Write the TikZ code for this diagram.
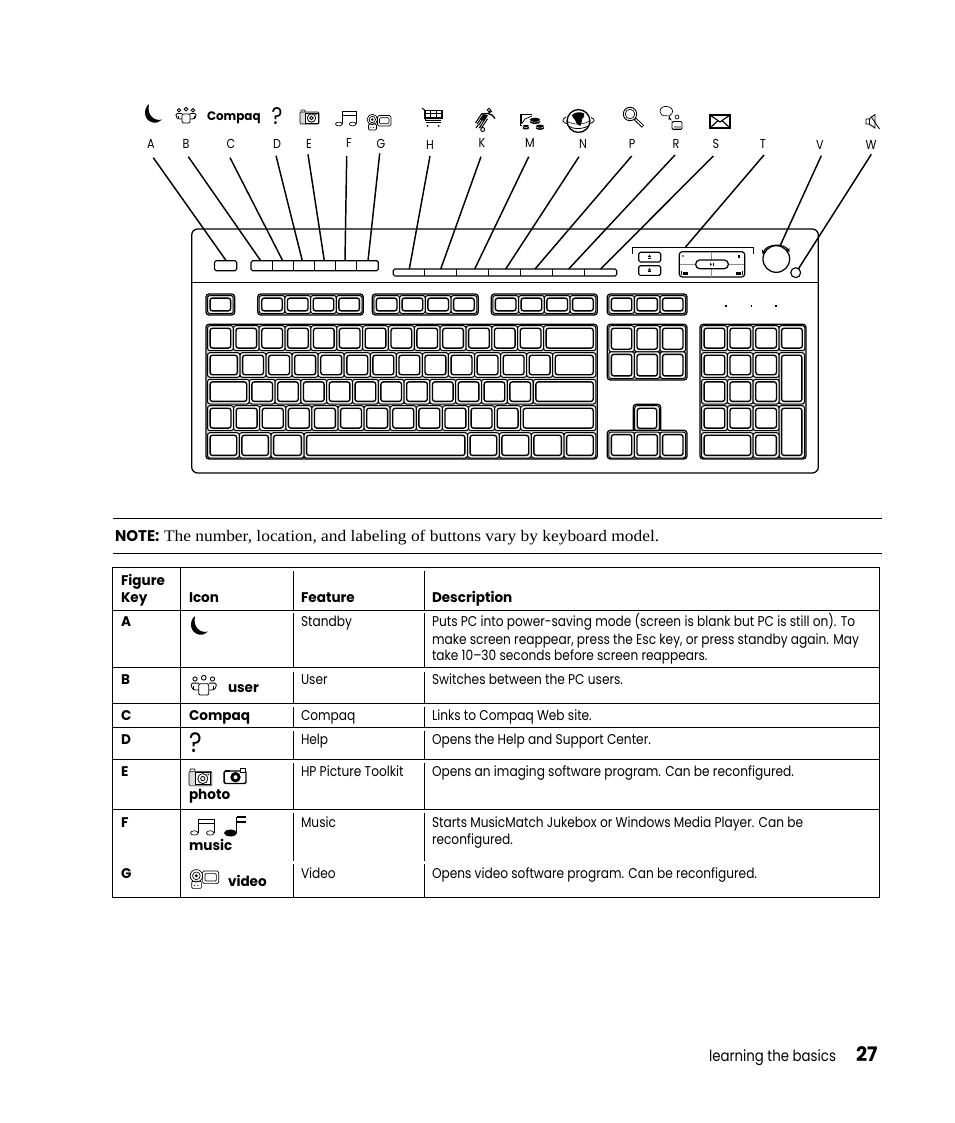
\documentclass[tikz,border=0pt]{standalone}
\usepackage{fontspec}
\usetikzlibrary{arrows.meta}
\setmainfont[FakeStretch=0.86,BoldFont=* Bold,BoldFeatures={FakeStretch=0.97}]{Poppins}
\newfontfamily\serifnote[FakeStretch=1.08]{Liberation Serif}
\newcommand\fpx[1]{\fontsize{\dimexpr #1pt*3/4\relax}{\dimexpr #1pt*3/4\relax}\selectfont}
\newcounter{tn}
\newcommand\T[4]{\stepcounter{tn}\node[txt] (t\thetn) at (#2,#3) {#1#4};}
\newcommand\keyb[4]{%
  \pgfmathsetmacro\ka{#1+2.6}\pgfmathsetmacro\kb{#2+2.6}\pgfmathsetmacro\kc{#3-2.6}\pgfmathsetmacro\kd{#4-2.6}%
  \draw[keyo] (#1,#2) rectangle (#3,#4);
  \draw[keyi] (\ka,\kb) rectangle (\kc,\kd);}
\newcommand\keyrow[5]{% x0 step n y1 y2
  \foreach \i in {1,...,#3}{\pgfmathsetmacro\xa{#1+(\i-1)*#2}\pgfmathsetmacro\xb{#1+\i*#2}\keyb{\xa}{#4}{\xb}{#5}}}
\newcommand\icon[4]{\begin{scope}[shift={(#1,#2)},scale=#3]#4\end{scope}}
\newcommand\moonicon{\fill[black] (5,0) .. controls (-1.5,5) and (0,17) .. (9,18.5) .. controls (12.5,19.2) and (16,18) .. (18,15.5) .. controls (11,17.5) and (2.5,12) .. (5,0) -- cycle;}
\newcommand\usersicon{\begin{scope}[ic,line width=.65pt]
 \draw (4,3.2) circle (1.7); \draw (11,2.2) circle (1.9); \draw (18,3.2) circle (1.7);
 \draw[rounded corners=1pt] (7,16) -- (7,7) -- (15,7) -- (15,16) -- cycle;
 \draw[rounded corners=1pt] (7,12) -- (3,12) -- (1,9.5) -- (1,6.5) -- (7,6.5);
 \draw[rounded corners=1pt] (15,12) -- (19,12) -- (21,9.5) -- (21,6.5) -- (15,6.5);
 \draw (3,12) -- (3,9); \draw (19,12) -- (19,9);
 \end{scope}}
\newcommand\cameraicon{\begin{scope}[ic,line width=.45pt]
 \draw[fill=black!15,rounded corners=.8pt] (0,2) rectangle (19,14);
 \draw[fill=white] (5,3) rectangle (18,13);
 \draw[rounded corners=.5pt] (.8,2) -- (.8,0) -- (5,0) -- (5,2);
 \draw[line width=.6pt] (11.5,8) circle (4.2); \draw[line width=.6pt] (11.5,8) circle (1.8);
 \fill (16,4.6) circle (.7);
 \end{scope}}
\newcommand\cameraicontwo{\begin{scope}
 \draw[line width=1.1pt,rounded corners=1pt] (.7,3) rectangle (22.5,15.5);
 \fill (12,9.2) circle (5.2); \fill[white] (12,9.2) circle (2);
 \draw[line width=.5pt,fill=white] (17,.6) rectangle (21.5,4);
 \fill (1,2) rectangle (6,4);
 \end{scope}}
\newcommand\musicicon{\begin{scope}[ic,line width=.5pt]
 \draw (7,13) -- (7,.8) -- (21,.8) -- (21,13); \draw (7,4.4) -- (21,4.4);
 \draw (3.8,13) ellipse (3.3 and 1.9); \draw (17.6,13) ellipse (3.3 and 1.9);
 \end{scope}}
\newcommand\notefilled{\fill (6.5,17) ellipse (6.5 and 3.4);
 \fill (12,17) rectangle (13.3,.6); \fill (13,.3) rectangle (22,2.1); \fill (13,5) rectangle (22,6.8);}
\newcommand\camcordericon{\begin{scope}[ic]
 \draw (5.3,6.5) circle (5.2); \draw (5.3,6.5) circle (3.2); \fill (5.3,6.5) circle (1.4);
 \draw[rounded corners=.8pt] (1.5,11) rectangle (9.5,17);
 \fill (3.8,14.5) circle (.5); \fill (6.6,14.5) circle (.5);
 \draw[rounded corners=1.2pt] (10.5,2.5) rectangle (24,13);
 \draw[rounded corners=.8pt] (12.5,4.7) rectangle (22,10.8);
 \end{scope}}
\newcommand\carticon{\begin{scope}[ic,line width=.75pt]
 \draw (0,0) -- (3,2.5) -- (3.5,12.5) -- (19,12.5);
 \draw[line width=.9pt] (3,2.5) rectangle (20,10); \draw (3,6) -- (20,6); \draw (8.5,2.5) -- (8.5,10); \draw (14,2.5) -- (14,10);
 \draw[line width=.9pt] (3.5,14.5) -- (19,14.5);
 \fill (5.5,18) circle (1); \fill (16.5,18) circle (1);
 \end{scope}}
\newcommand\runnericon{\begin{scope}[ic]
 \draw[line width=.7pt] (14,2) circle (1.7);
 \draw[line width=1pt] (6,6) -- (13,5.5) -- (17,7) -- (20,10.5); \draw[line width=.8pt] (13,5.5) -- (17,3);
 \fill (9,6) -- (13,7.5) -- (9,13) -- (5,11) -- cycle;
 \foreach \k in {0,1.7,3.4,5.1,6.8}{\draw[line width=.75pt] (6.5+\k*.9,6+\k*.7) -- (.5+\k*.9,15+\k*.7);}
 \draw[line width=.8pt] (3,17) -- (1,20); \draw[line width=.8pt] (6,18) -- (4,20);
 \draw[line width=.7pt] (7.7,21.5) circle (2);
 \end{scope}}
\newcommand\stack[3]{\fill (#1,#2) ellipse (#3 and #3*.42); \fill (#1-#3,#2) rectangle (#1+#3,#2+1.8); \fill (#1,#2+1.8) ellipse (#3 and #3*.42);
 \draw[white,line width=.3pt] (#1-#3,#2+.2) .. controls (#1-#3*.5,#2+#3*.55) and (#1+#3*.5,#2+#3*.55) .. (#1+#3,#2+.2);}
\newcommand\charticon{\begin{scope}[ic,line width=.55pt]
 \draw (13,1) -- (1,1) -- (1,12.5) -- (3,12.5); \draw (2,2) -- (2,10.5) ;
 \draw (2.5,11) -- (6,6) -- (13,3);
 \stack{16}{7}{5.4}
 \stack{6.8}{13.3}{3.3}
 \stack{21}{13.3}{4.2}
 \end{scope}}
\newcommand\globeicon{\begin{scope}[ic,line width=.6pt]
 \draw (3,8) .. controls (-2,10.5) and (-1,13.5) .. (5,15);
 \draw (28,8.5) .. controls (33,10.5) and (32,13) .. (26,15);
 \draw[line width=1pt,fill=white] (15.5,12) circle (11.4);
 \fill (9,6) .. controls (12,2.8) and (18,2.5) .. (21,4.5) .. controls (22,7) and (21,9) .. (19,10) .. controls (19,13) and (18.5,15) .. (17,17) .. controls (14.5,15.5) and (12.5,14) .. (12,11) .. controls (10.5,9) and (9,8) .. (9,6) -- cycle;
 \draw (5.5,17) .. controls (10,20.5) and (18,20.5) .. (25.5,17);
 \draw[line width=.4pt] (3.5,12) .. controls (10,16) and (20,16.5) .. (27,11.5);
 \end{scope}}
\newcommand\magicon{\begin{scope}[ic]
 \draw[line width=.7pt] (7,7) circle (6.7); \draw[line width=.5pt] (7,7) circle (4.8);
 \draw[line width=2.4pt] (12,12) -- (20,19.5); \draw[white,line width=.9pt] (12.6,12.6) -- (19.6,19);
 \end{scope}}
\newcommand\talkicon{\begin{scope}[ic]
 \draw (0,5.5) .. controls (0,1.5) and (4,0) .. (7,.5) .. controls (11,1) and (14,4) .. (12,7.5) .. controls (11,10) and (8,10.8) .. (6,9.8) .. controls (2,10) and (0,8) .. (0,5.5) -- cycle;
 \fill (9.5,11.5) -- (12,14.5) -- (8,13) -- cycle; \draw (9,10) -- (10,13);
 \draw (17,11) circle (2);
 \draw[line width=.7pt,rounded corners=1pt] (12,23.5) rectangle (22,15.5);
 \fill[black!35] (13.5,20) rectangle (20.5,22.7);
 \end{scope}}
\newcommand\mailicon{\begin{scope}[line width=.85pt]
 \draw (0,0) rectangle (20,13); \draw (0,0) -- (10,7) -- (20,0); \draw (0,13) -- (8,5.6); \draw (20,13) -- (12,5.6);
 \end{scope}}
\newcommand\muteicon{\begin{scope}[ic,line width=.65pt]
 \draw (0,5) -- (3,5) -- (9,.5) -- (9,14) -- (3,10) -- (0,10) -- cycle; \draw (3,5) -- (3,10);
 \draw (5,2.5) -- (13.5,15);
 \end{scope}}
\tikzset{
 txt/.style={anchor=base west,inner sep=0pt,outer sep=0pt,text=black},
 lab/.style={anchor=center,inner sep=0pt,outer sep=0pt,font=\fpx{13}},
 call/.style={line width=1.1pt},
 body/.style={line width=.95pt,rounded corners=4.5pt},
 btn/.style={line width=.85pt,rounded corners=1.2pt,fill=white},
 keyo/.style={line width=.75pt,rounded corners=1.8pt,fill=black!6},
 keyi/.style={line width=1pt,rounded corners=1.8pt,fill=white},
 grp/.style={line width=.95pt,rounded corners=2.2pt,fill=black!12},
 rule/.style={line width=.75pt},
 tab/.style={line width=.7pt},
 ic/.style={line width=.5pt},
}
\begin{document}
\begin{tikzpicture}[x=0.75pt,y=-0.75pt]
\useasboundingbox (0,0) rectangle (954,1123);
% keyboard body
\draw[body] (191.7,229) rectangle (818.3,473);
\draw[line width=.95pt] (191.7,282.7) -- (818.3,282.7);
% top buttons
\draw[btn] (214.5,260.7) rectangle (236.7,270.7);
\draw[btn] (251,260.7) rectangle (378.3,270.7);
\foreach \x in {272.7,293.5,314.5,335.5,356.8}{\draw[line width=.7pt] (\x,260.7) -- (\x,270.7);}
\draw[btn] (393.3,269) rectangle (616.7,276);
\foreach \x in {424.5,456.7,488.7,520.7,552.7,584.7}{\draw[line width=.7pt] (\x,269) -- (\x,276);}
% bracket
\draw[line width=.65pt] (632.3,254.3) -- (632.3,247.3) -- (753.3,247.3) -- (753.3,254.3);
\foreach \y in {252.3,265.7}{
 \pgfmathsetmacro\yy{\y+9.7}\pgfmathsetmacro\ym{\y+4.8}
 \draw[btn] (638.7,\y) rectangle (660.7,\yy);
 \fill (647.8,\ym) -- (651.2,\ym) -- (649.5,\ym-2.4) -- cycle;
 \fill (647.8,\ym+.6) rectangle (651.2,\ym+1.1);}
\draw[line width=.9pt,rounded corners=2.2pt] (679.3,251.7) rectangle (744.7,277);
\draw[black!45,line width=.8pt] (711.7,252) -- (711.7,276.6);
\draw[black!45,line width=.5pt] (680,264.3) -- (744,264.3);
\draw[btn,line width=.9pt,rounded corners=3pt] (695.7,260) rectangle (728.3,268.7);
\fill (710,262.8) -- (712,264.3) -- (710,265.8) -- cycle; \fill (712.5,262.8) rectangle (713.3,265.8);
\fill (683,256) circle (.8); \fill (738.3,254.5) rectangle (740,257.5);
\fill (681,271) rectangle (681.6,275); \fill (683,272) rectangle (687.5,274.5);
\fill (736,272) rectangle (741,274.5); \fill (742,271) rectangle (742.6,275);
% knob
\node[circle,draw,line width=.95pt,minimum size=20pt,inner sep=0pt] (knob) at (776.3,259) {};
\draw[line width=.8pt,{Stealth[length=3pt,width=3.5pt]}-{Stealth[length=3pt,width=3.5pt]}] (762.5,254) .. controls (767,243.5) and (784,243) .. (789.5,252);
\node[circle,draw,line width=.85pt,minimum size=7.4pt,inner sep=0pt] (mutebtn) at (795.7,272.7) {};
% LEDs
\fill (725.2,305) rectangle (726.7,307.4); \fill (751,305) rectangle (752.4,306.8); \fill (775.2,304.5) rectangle (776.6,307);
% function row
\draw[grp] (206,294) rectangle (234.7,315); \keyrow{207.5}{25.7}{1}{295.5}{313.5}
\draw[grp] (257.7,294) rectangle (363.3,315); \keyrow{259.2}{25.7}{4}{295.5}{313.5}
\draw[grp] (372.3,294) rectangle (478.3,315); \keyrow{373.8}{25.75}{4}{295.5}{313.5}
\draw[grp] (491.3,294) rectangle (597.3,315); \keyrow{492.8}{25.75}{4}{295.5}{313.5}
\draw[grp] (607.3,294) rectangle (687,315); \keyrow{608.8}{25.6}{3}{295.5}{313.5}
% main block
\draw[grp] (206,324.3) rectangle (597.3,459);
\keyrow{207.5}{25.85}{13}{325.7}{350.7} \keyb{543.5}{325.7}{595.8}{350.7}
\keyb{207.5}{352.7}{240}{377.3} \keyrow{240}{26.06}{12}{352.7}{377.3} \keyb{552.7}{352.7}{595.8}{377.3}
\keyb{207.5}{379.3}{249.3}{404} \keyrow{249.3}{25.8}{11}{379.3}{404} \keyb{533.3}{379.3}{595.8}{404}
\keyrow{207.5}{26.1}{12}{405.7}{430.7} \keyb{520.7}{405.7}{595.8}{430.7}
\keyb{207.5}{432.7}{239.3}{458} \keyb{239.3}{432.7}{271}{458} \keyb{271}{432.7}{304}{458} \keyb{304}{432.7}{467.5}{458}
\keyb{467.5}{432.7}{499.3}{458} \keyb{499.3}{432.7}{531.3}{458} \keyb{531.3}{432.7}{564}{458} \keyb{564}{432.7}{595.8}{458}
% nav
\draw[grp] (607.3,324.3) rectangle (687,380);
\keyrow{608.8}{25.6}{3}{325.7}{351.8} \keyrow{608.8}{25.6}{3}{351.8}{378.5}
\draw[grp] (633.3,404.3) rectangle (660.7,432);
\keyb{634.7}{405.7}{659.3}{431}
\draw[grp] (607.3,430.3) rectangle (687,459);
\keyrow{608.8}{25.6}{3}{432}{458}
% numpad
\draw[grp] (700,324.3) rectangle (806,459);
\keyrow{701.5}{25.85}{4}{325.7}{350.7}
\keyrow{701.5}{25.85}{3}{352.7}{377.3} \keyb{779}{352.7}{804.5}{404}
\keyrow{701.5}{25.85}{3}{379.3}{404}
\keyrow{701.5}{25.85}{3}{405.7}{430.7} \keyb{779}{405.7}{804.5}{458}
\keyb{701.5}{432.7}{753.2}{458} \keyb{753.2}{432.7}{779}{458}
% callouts
\foreach \n/\lx/\ly/\xa/\ya/\xb/\yb in {
 A/151/144/153.3/157.7/226.2/260.7, B/186/144/188.3/156.7/260.7/260.7, C/231/144/230/157.7/282.7/260.7,
 D/277/144/276/155.7/302.3/260.7, E/309/144/308/154.3/324.3/260.7, F/349/143/346.7/156/345/260.7,
 G/381/144/379.7/153.3/368/260.7, H/430/145/430/156/409.3/269, K/482/143/481/156.7/440.7/269,
 M/530/143/528.7/156.7/474.7/269, N/583/144/579/156.7/505.7/269, P/632/144/631.7/156/535/269,
 R/676/144/675/155/568.7/269, S/716/144/713.3/156/600.7/269, T/763/144/764/155/685.3/247.3,
 V/820/145/821.3/155.7/780/246, W/871/145/871.3/154.3/798.3/269}{
 \node[lab] (lab\n) at (\lx,\ly) {\n};
 \coordinate (top\n) at (\xa,\ya);
 \coordinate (end\n) at (\xb,\yb);
 \draw[call] (top\n) -- (end\n);
}
% top icons
\icon{144}{104}{1}{\moonicon}
\icon{175}{107}{1}{\usersicon}
\T{\fpx{12.3}\bfseries}{207}{121}{Compaq}
\T{\fpx{24}}{271.5}{125}{?}
\icon{300}{110}{1}{\cameraicon}
\icon{335}{111}{1}{\musicicon}
\icon{367}{113}{1}{\camcordericon}
\icon{422}{108}{1}{\carticon}
\icon{475}{108}{1}{\runnericon}
\icon{519}{113}{1}{\charticon}
\icon{563}{109}{1}{\globeicon}
\icon{623}{107}{1}{\magicon}
\icon{660}{106}{1}{\talkicon}
\icon{710}{115}{1}{\mailicon}
\icon{866}{114}{1}{\muteicon}
% note
\draw[rule] (113,518) -- (882,518);
\draw[rule] (113,553) -- (882,553);
\T{\fpx{15.5}\bfseries}{115}{541}{NOTE:}
\T{\serifnote\fpx{16.1}}{164}{541}{The number, location, and labeling of buttons vary by keyboard model.}
% table
\draw[tab] (112.5,567.5) rectangle (879.5,897.5);
\draw[tab] (180.5,567.5) -- (180.5,897.5);
\foreach \y in {610.5,667.5,703.5,727,759.5,809.5}{\draw[tab] (112.5,\y) -- (879.5,\y);}
\foreach \a/\b in {571/609.5,613/667,672/703,707/726.5,731/759,763/809,813/861,864/897}{
 \draw[tab] (293.5,\a) -- (293.5,\b); \draw[tab] (424.5,\a) -- (424.5,\b);}
\newcommand\hd{\fpx{14}\bfseries}
\newcommand\bd{\fpx{14.15}}
\T{\hd}{121}{585}{Figure}
\T{\hd}{121}{602}{Key}
\T{\hd}{189}{602}{Icon}
\T{\hd}{301}{602}{Feature}
\T{\hd}{432}{602}{Description}
\T{\hd}{121}{626}{A}
\icon{190}{616}{1}{\moonicon}
\T{\bd}{301}{626}{Standby}
\T{\bd}{432}{626}{Puts PC into power-saving mode (screen is blank but PC is still on). To}
\T{\bd}{432}{644}{make screen reappear, press the Esc key, or press standby again. May}
\T{\bd}{432}{660}{take 10--30 seconds before screen reappears.}
\T{\hd}{121}{684}{B}
\icon{190}{675}{1.25}{\usersicon}
\T{\hd}{228}{692}{user}
\T{\bd}{301}{684}{User}
\T{\bd}{432}{684}{Switches between the PC users.}
\T{\hd}{121}{720}{C}
\T{\hd}{189}{720}{Compaq}
\T{\bd}{301}{720}{Compaq}
\T{\bd}{432}{720}{Links to Compaq Web site.}
\T{\hd}{121}{744}{D}
\T{\fpx{28}}{189}{752}{?}
\T{\bd}{301}{744}{Help}
\T{\bd}{432}{744}{Opens the Help and Support Center.}
\T{\hd}{121}{776}{E}
\icon{189}{769}{1.2}{\cameraicon}
\icon{223.5}{768}{1}{\cameraicontwo}
\T{\hd}{189}{799}{photo}
\T{\bd}{301}{776}{HP Picture Toolkit}
\T{\bd}{432}{776}{Opens an imaging software program. Can be reconfigured.}
\T{\hd}{121}{827}{F}
\icon{190}{818}{1.15}{\musicicon}
\icon{224}{816}{1}{\notefilled}
\T{\hd}{189}{850}{music}
\T{\bd}{301}{827}{Music}
\T{\bd}{432}{827}{Starts MusicMatch Jukebox or Windows Media Player. Can be}
\T{\bd}{432}{844}{reconfigured.}
\T{\hd}{121}{878}{G}
\icon{190}{868}{1.2}{\camcordericon}
\T{\hd}{228}{886}{video}
\T{\bd}{301}{878}{Video}
\T{\bd}{432}{878}{Opens video software program. Can be reconfigured.}
% footer
\T{\fpx{15.5}}{709}{1061}{learning the basics}
\T{\fpx{20}\bfseries}{856}{1061}{27}
\end{tikzpicture}
\end{document}
